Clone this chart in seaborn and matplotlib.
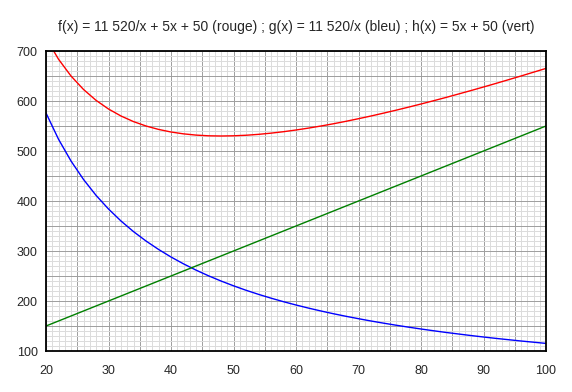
import numpy as np
import pandas as pd
import matplotlib
matplotlib.use("Agg")
import matplotlib.pyplot as plt
import seaborn as sns
from matplotlib.ticker import MultipleLocator

# valeurs, x de 20 a 100 par pas de 2
x_vals = list(range(20, 101, 2))
g_vals = [576, 523.6, 480, 443.1, 411.4, 384, 360, 338.8, 320, 303.2,
          288, 274.3, 261.8, 250.4, 240, 230.4, 221.5, 213.3, 205.7, 198.6,
          192, 185.8, 180, 174.5, 169.4, 164.6, 160, 155.7, 151.6, 147.7,
          144, 140.5, 137.1, 134, 130.9, 128, 125.2, 122.6, 120, 117.6, 115.2]
h_vals = [150, 160, 170, 180, 190, 200, 210, 220, 230, 240,
          250, 260, 270, 280, 290, 300, 310, 320, 330, 340,
          350, 360, 370, 380, 390, 400, 410, 420, 430, 440,
          450, 460, 470, 480, 490, 500, 510, 520, 530, 540, 550]
f_vals = [726, 683.6, 650, 623.1, 601.4, 584, 570, 558.8, 550, 543.2,
          538, 534.3, 531.8, 530.4, 530, 530.4, 531.5, 533.3, 535.7, 538.6,
          542, 545.8, 550, 554.5, 559.4, 564.6, 570, 575.7, 581.6, 587.7,
          594, 600.5, 607.1, 614, 620.9, 628, 635.2, 642.6, 650, 657.6, 665.2]

title = "f(x) = 11 520/x + 5x + 50 (rouge) ; g(x) = 11 520/x (bleu) ; h(x) = 5x + 50 (vert)"

df = pd.DataFrame({"x": x_vals, "f": f_vals, "g": g_vals, "h": h_vals})

sns.set_style("white")
plt.rcParams["font.family"] = ["Liberation Sans", "DejaVu Sans"]

fig = plt.figure(figsize=(5.72, 3.92), dpi=100)
ax = fig.add_axes([46 / 572, 1 - 351 / 392, 500 / 572, 300 / 392])

# quadrillage (1 px, net)
ax.xaxis.set_major_locator(MultipleLocator(10))
ax.yaxis.set_major_locator(MultipleLocator(100))
for v in np.arange(20, 101, 1):
    ax.axvline(v, color="#dcdcdc" if v % 5 else "#a0a0a0", lw=0.72,
               antialiased=False, zorder=0)
for v in np.arange(100, 701, 10):
    ax.axhline(v, color="#dcdcdc" if v % 50 else "#a0a0a0", lw=0.72,
               antialiased=False, zorder=0)

sns.lineplot(data=df, x="x", y="g", color="#0000ff", lw=1, ax=ax)
sns.lineplot(data=df, x="x", y="h", color="#008000", lw=1, ax=ax)
sns.lineplot(data=df, x="x", y="f", color="#ff0000", lw=1, ax=ax)

ax.set_xlim(20, 100)
ax.set_ylim(100, 700)
ax.set_xlabel("")
ax.set_ylabel("")
ax.tick_params(which="both", length=0, labelsize=9)
ax.tick_params(axis="x", pad=10)
ax.tick_params(axis="y", pad=6)
for s in ax.spines.values():
    s.set_color("black")
    s.set_linewidth(1.3)
    s.set_zorder(5)

fig.text(296 / 572, 1 - 27 / 392, title, ha="center", va="center", fontsize=10)

fig.savefig("out.png", dpi=100)
